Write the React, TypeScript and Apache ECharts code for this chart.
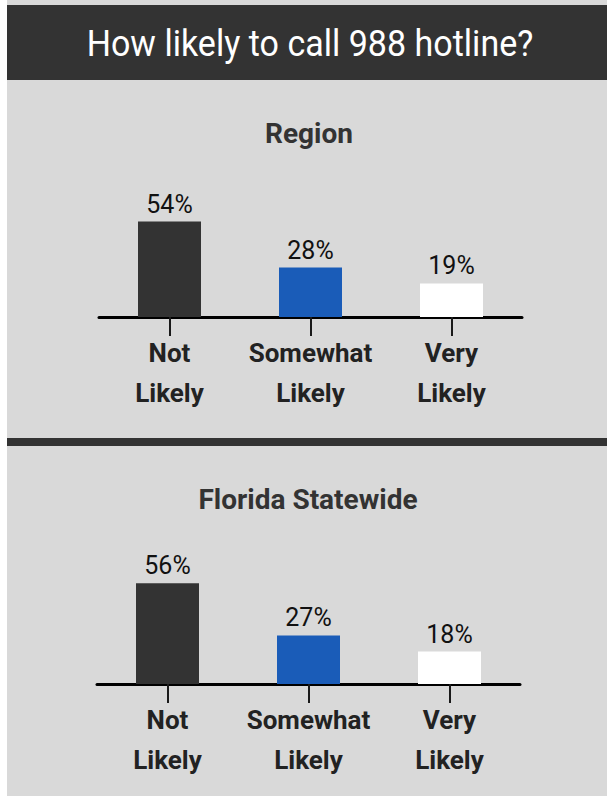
import React, { useEffect, useRef } from "react";
import * as echarts from "echarts";

const categories = ["Not\nLikely", "Somewhat\nLikely", "Very\nLikely"];
const regionValues = [54, 28, 19];
const statewideValues = [56, 27, 18];
const barColors = ["#333333", "#1a5cb8", "#ffffff"];
const mainTitle = "How likely to call 988 hotline?";
const panelTitles = ["Region", "Florida Statewide"];

const FONT = "Roboto, 'Noto Sans', sans-serif";

export default function App() {
  const ref = useRef<HTMLDivElement>(null);
  useEffect(() => {
    const chart = echarts.init(ref.current as HTMLDivElement, null, { renderer: "svg" });

    const mkX = (gi: number) => ({
      type: "category",
      gridIndex: gi,
      data: categories,
      axisLine: { show: true, lineStyle: { color: "#000000", width: 3 } },
      axisTick: { show: true, alignWithLabel: true, length: 19, lineStyle: { color: "#1a1a1a", width: 2 } },
      axisLabel: {
        margin: 16,
        fontFamily: FONT,
        fontSize: 26,
        fontWeight: "bold",
        color: "#222222",
        lineHeight: 40,
        interval: 0,
      },
      splitLine: { show: false },
    });
    const mkY = (gi: number) => ({
      type: "value",
      gridIndex: gi,
      min: 0,
      max: 60,
      show: false,
      splitLine: { show: false },
    });
    const mkSeries = (gi: number, values: number[]) => ({
      type: "bar",
      xAxisIndex: gi,
      yAxisIndex: gi,
      barWidth: 63,
      data: values.map((v, i) => ({ value: v, itemStyle: { color: barColors[i] } })),
      label: {
        show: true,
        position: "top",
        distance: 5,
        formatter: "{c}%",
        fontFamily: FONT,
        fontSize: 25,
        color: "#111111",
      },
    });

    const option = {
      animation: false,
      backgroundColor: "#ffffff",
      graphic: [
        { type: "rect", z: -10, shape: { x: 7, y: 0, width: 600, height: 796 }, style: { fill: "#d9d9d9" } },
        { type: "rect", z: -9, shape: { x: 7, y: 5, width: 600, height: 75 }, style: { fill: "#333333" } },
        { type: "rect", z: -9, shape: { x: 7, y: 438, width: 600, height: 8 }, style: { fill: "#333333" } },
        {
          type: "text",
          z: 10,
          x: 310,
          y: 44,
          scaleX: 0.92,
          style: {
            text: mainTitle,
            fill: "#ffffff",
            fontFamily: FONT,
            fontSize: 37,
            fontWeight: "normal",
            textAlign: "center",
            textVerticalAlign: "middle",
          },
        },
        {
          type: "text",
          z: 10,
          x: 309,
          y: 133,
          style: {
            text: panelTitles[0],
            fill: "#333333",
            fontFamily: FONT,
            fontSize: 28,
            fontWeight: "bold",
            textAlign: "center",
            textVerticalAlign: "middle",
          },
        },
        {
          type: "text",
          z: 10,
          x: 308,
          y: 499,
          style: {
            text: panelTitles[1],
            fill: "#333333",
            fontFamily: FONT,
            fontSize: 28,
            fontWeight: "bold",
            textAlign: "center",
            textVerticalAlign: "middle",
          },
        },
      ],
      grid: [
        { left: 99, width: 423, top: 211, height: 106 },
        { left: 97, width: 423, top: 576, height: 108 },
      ],
      xAxis: [mkX(0), mkX(1)],
      yAxis: [mkY(0), mkY(1)],
      series: [mkSeries(0, regionValues), mkSeries(1, statewideValues)],
    };

    chart.setOption(option as any);
    return () => chart.dispose();
  }, []);
  return <div ref={ref} style={{ position: "absolute", left: 0, top: 0, width: 607, height: 796 }} />;
}
